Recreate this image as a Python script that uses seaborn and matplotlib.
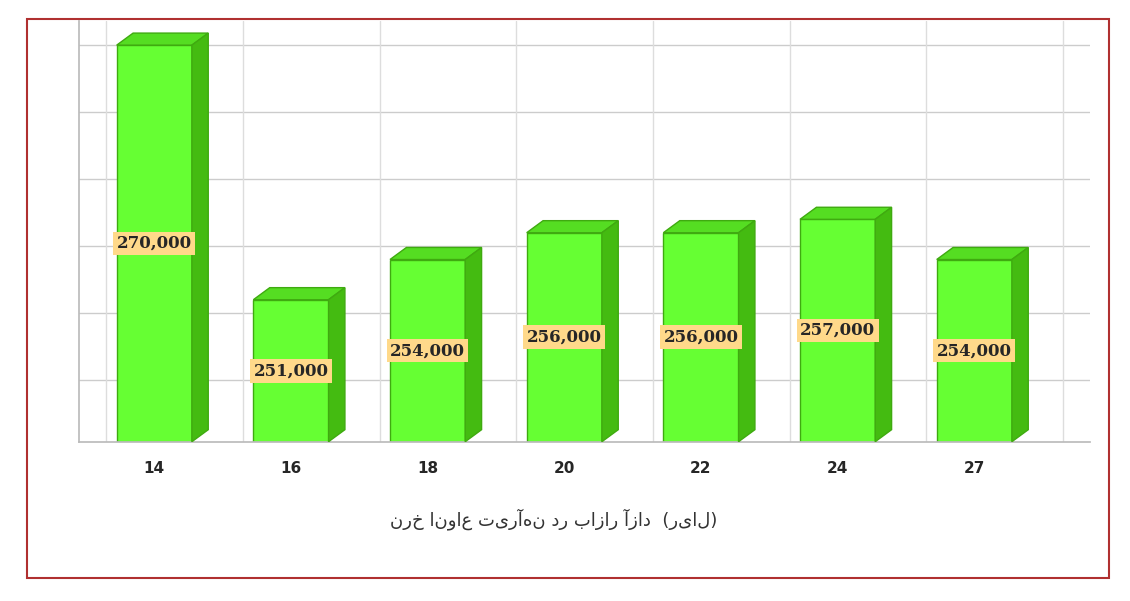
import matplotlib
matplotlib.use("Agg")
import matplotlib.pyplot as plt
import seaborn as sns
import pandas as pd
from matplotlib.patches import Polygon, Rectangle

categories = ["14", "16", "18", "20", "22", "24", "27"]
values = [270000, 251000, 254000, 256000, 256000, 257000, 254000]
value_labels = ["270,000", "251,000", "254,000", "256,000", "256,000", "257,000", "254,000"]
title = "نرخ انواع تیرآهن در بازار آزاد  (ریال)"

sns.set_theme(style="white")
plt.rcParams['font.family'] = ['DejaVu Sans']
fig = plt.figure(figsize=(11.30, 6.01), dpi=100)
fig.patches.append(Rectangle((0.024, 0.038), 0.957, 0.93, transform=fig.transFigure,
                             fill=False, ec="#B03030", lw=1.5))
ax = fig.add_axes([0.07, 0.265, 0.895, 0.70])
df = pd.DataFrame({"cat": categories, "val": values})
base = 240400
sns.barplot(data=df, x="cat", y="val", ax=ax, color="#66FF33", width=0.55,
            edgecolor="#3FAA10", linewidth=1, saturation=1)
ax.set_ylim(base, 271800)
ax.set_xlim(-0.55, 6.85)
dx, dy = 0.12, 900
for p, lab in zip(ax.patches, value_labels):
    x0, w, h = p.get_x(), p.get_width(), p.get_height()
    p.set_y(base); p.set_height(h - base)
    top = h
    ax.add_patch(Polygon([(x0, top), (x0 + dx, top + dy), (x0 + w + dx, top + dy), (x0 + w, top)],
                         closed=True, fc="#55DD22", ec="#3FAA10", lw=1, zorder=3))
    ax.add_patch(Polygon([(x0 + w, base), (x0 + w + dx, base + dy), (x0 + w + dx, top + dy), (x0 + w, top)],
                         closed=True, fc="#44BB11", ec="#3FAA10", lw=1, zorder=3))
    ax.text(x0 + w / 2, base + (top - base) / 2, lab, ha="center", va="center",
            family="DejaVu Serif", fontweight="bold", fontsize=12, zorder=5,
            bbox=dict(boxstyle="square,pad=0.2", fc="#FFD98A", ec="none"))
for y in range(245000, 272500, 5000):
    ax.axhline(y, color="#CCCCCC", lw=1, zorder=0)
for i in range(len(categories) + 1):
    ax.axvline(i - 0.5 + 0.15, color="#DDDDDD", lw=1, zorder=0)
for s in ["top", "right"]:
    ax.spines[s].set_visible(False)
ax.spines["left"].set_color("#BBBBBB")
ax.spines["bottom"].set_color("#BBBBBB")
ax.set_yticks([])
ax.set_xlabel("")
ax.set_ylabel("")
ax.tick_params(axis="x", length=0, pad=14)
for t in ax.get_xticklabels():
    t.set_fontweight("bold"); t.set_fontsize(11)
fig.text(0.49, 0.125, title, ha="center", fontsize=13, family="DejaVu Sans", color="#333333")
fig.savefig("out.png", dpi=100)
